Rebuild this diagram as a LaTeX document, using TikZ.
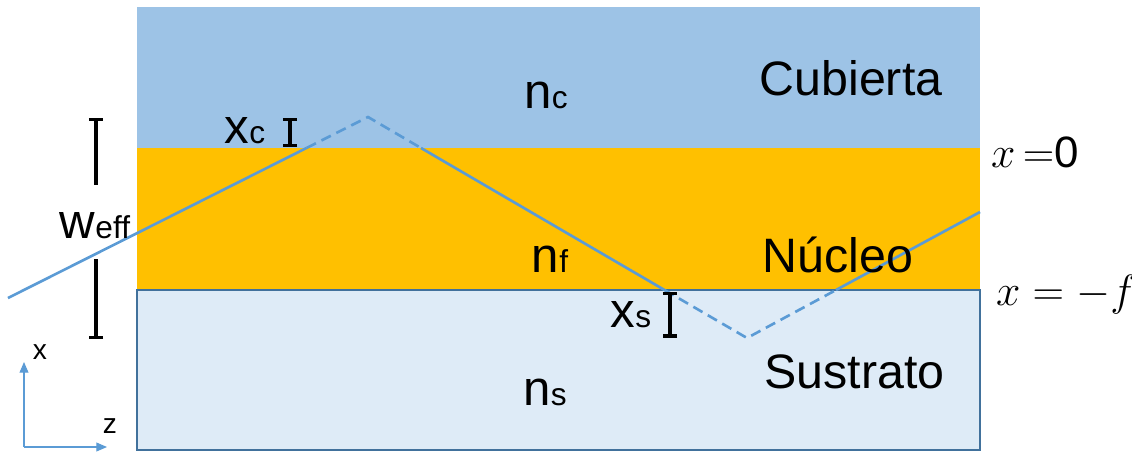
\documentclass[tikz,border=0pt]{standalone}
\usepackage{fontspec}
\setmainfont{Liberation Sans}
\usepackage{xcolor}
\usepackage{tikz}
\usetikzlibrary{arrows.meta, positioning, calc}
\definecolor{coverblue}{RGB}{157, 195, 230}
\definecolor{coreorange}{RGB}{255, 192, 0}
\definecolor{substratefill}{RGB}{222, 235, 247}
\definecolor{substrateline}{RGB}{65, 113, 156}
\definecolor{rayblue}{RGB}{91, 155, 213}
\newcommand{\idxlabel}[2]{{\fontsize{28}{30}\selectfont #1}{\fontsize{18}{20}\selectfont #2}}

\tikzset{
    ray/.style={rayblue, line width=1.5pt},
    raydash/.style={ray, dash pattern=on 6pt off 3.5pt},
    bracket/.style={black, line width=1.9pt},
    layername/.style={anchor=base, font=\fontsize{27.5}{30}\selectfont},
    idxname/.style={anchor=base, inner sep=0pt},
    mathname/.style={anchor=west, font=\fontsize{25}{27}\selectfont}
}

\begin{document}
\begin{tikzpicture}
    \useasboundingbox (0,0) rectangle (22.64,9.08);

    % Layers
    \fill[coverblue] (2.74,6.12) rectangle (19.6,8.94);
    \fill[coreorange] (2.74,3.28) rectangle (19.6,6.12);
    \draw[substrateline, fill=substratefill, line width=1pt] (2.74,0.08) rectangle (19.6,3.28);

    % Ray
    \coordinate (rayStart) at (0.16,3.12);
    \coordinate (coreInL) at (6.13,6.12);
    \coordinate (apexTop) at (7.36,6.74);
    \coordinate (coreInR) at (8.42,6.12);
    \coordinate (subInL) at (13.29,3.28);
    \coordinate (apexBot) at (14.94,2.32);
    \coordinate (subInR) at (16.72,3.28);
    \coordinate (rayEnd) at (19.6,4.84);
    \draw[ray] (rayStart) -- (coreInL);
    \draw[raydash] (coreInL) -- (apexTop) -- (coreInR);
    \draw[ray] (coreInR) -- (subInL);
    \draw[raydash] (subInL) -- (apexBot) -- (subInR);
    \draw[ray] (subInR) -- (rayEnd);

    % Brackets
    \coordinate (xcTop) at (5.8,6.72);
    \coordinate (xcBot) at (5.8,6.14);
    \coordinate (xsTop) at (13.4,3.25);
    \coordinate (xsBot) at (13.4,2.33);
    \coordinate (wTop) at (1.92,6.72);
    \coordinate (wTopEnd) at (1.92,5.38);
    \coordinate (wBotEnd) at (1.92,3.9);
    \coordinate (wBot) at (1.92,2.3);
    \draw[bracket, {Bar[width=8pt]}-{Bar[width=8pt]}] (xcTop) -- (xcBot);
    \draw[bracket, {Bar[width=8pt]}-{Bar[width=8pt]}] (xsTop) -- (xsBot);
    \draw[bracket, {Bar[width=8pt]}-] (wTop) -- (wTopEnd);
    \draw[bracket, -{Bar[width=8pt]}] (wBotEnd) -- (wBot);

    % Labels
    \node[layername] (cubierta) at (17.02,7.18) {Cubierta};
    \node[layername] (nucleo) at (16.76,3.64) {Núcleo};
    \node[layername] (sustrato) at (17.09,1.32) {Sustrato};
    \node[idxname] (nc) at (10.92,6.92) {\idxlabel{n}{c}};
    \node[idxname] (nf) at (11.0,3.64) {\idxlabel{n}{f}};
    \node[idxname] (ns) at (10.9,0.98) {\idxlabel{n}{s}};
    \node[idxname] (xc) at (4.9,6.22) {\idxlabel{x}{c}};
    \node[idxname] (xs) at (12.62,2.54) {\idxlabel{x}{s}};
    \node[idxname] (weff) at (1.9,4.32) {\idxlabel{w}{eff}};
    \node[mathname] (xzero) at (19.7,6.04) {$x$\,${=}$0};
    \node[mathname] (xminf) at (19.8,3.18) {$x=-f$};

    % Axes
    \coordinate (origin) at (0.48,0.14);
    \coordinate (axisX) at (0.48,1.84);
    \coordinate (axisZ) at (2.14,0.14);
    \draw[rayblue, line width=0.6pt, -{Triangle[length=6pt,width=5pt]}] (origin) -- (axisX);
    \draw[rayblue, line width=0.6pt, -{Triangle[length=6pt,width=5pt]}] (origin) -- (axisZ);
    \node[font=\fontsize{16}{18}\selectfont] (xlabel) at (0.8,2.04) {x};
    \node[font=\fontsize{16}{18}\selectfont] (zlabel) at (2.2,0.56) {z};
\end{tikzpicture}
\end{document}
